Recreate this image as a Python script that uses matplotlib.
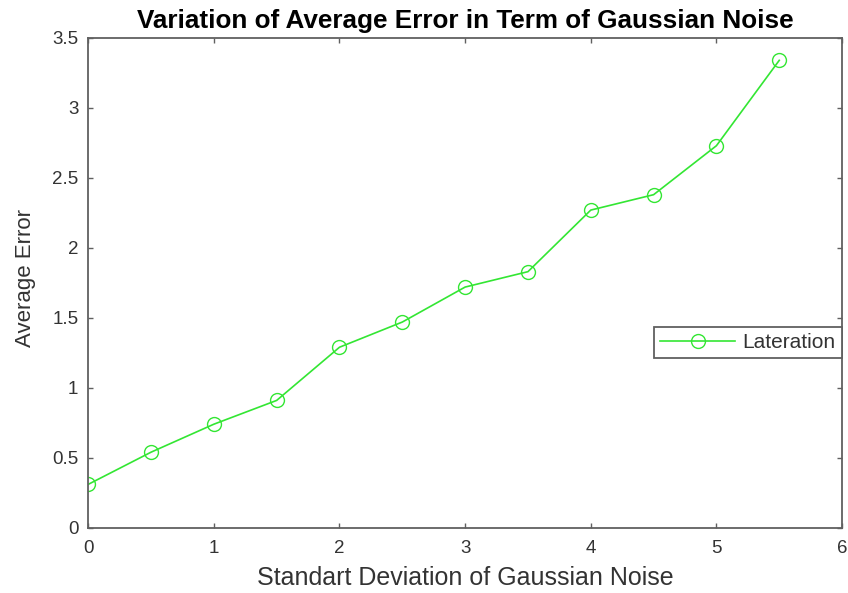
import matplotlib.pyplot as plt

plt.rcParams['font.family'] = ['Liberation Sans', 'DejaVu Sans']

# Standard deviation of the noise and the mean error
noise_std = [0, 0.5, 1, 1.5, 2, 2.5, 3, 3.5, 4, 4.5, 5, 5.5]
avg_error = [0.31, 0.54, 0.74, 0.91, 1.29, 1.47, 1.72, 1.83, 2.27, 2.38, 2.73, 3.34]

x_ticks = [0, 1, 2, 3, 4, 5, 6]
y_ticks = [0, 0.5, 1, 1.5, 2, 2.5, 3, 3.5]
y_labels = ['0', '0.5', '1', '1.5', '2', '2.5', '3', '3.5']

fig = plt.figure(figsize=(8.48, 5.93), dpi=100)
ax = fig.add_axes([0.104, 0.11, 0.889, 0.826])

green = '#33e633'
ax.plot(noise_std, avg_error, color=green, linewidth=1.2, marker='o',
        markersize=10, markerfacecolor='none', markeredgecolor=green,
        label='Lateration')

ax.set_xlim(0, 6)
ax.set_ylim(0, 3.5)
ax.set_xticks(x_ticks)
ax.set_yticks(y_ticks)
ax.set_yticklabels(y_labels)

axis_grey = '#606060'
text_grey = '#333333'
for side in ax.spines.values():
    side.set_color(axis_grey)
    side.set_linewidth(1.3)
ax.tick_params(direction='in', length=3.5, width=1, colors=axis_grey,
               labelcolor=text_grey, labelsize=13.5, top=True, right=True)
ax.tick_params(axis='x', pad=9)
ax.tick_params(axis='y', pad=7)

ax.set_xlabel('Standart Deviation of Gaussian Noise', fontsize=18, color=text_grey)
ax.set_ylabel('Average Error', fontsize=16, color=text_grey)
ax.xaxis.set_label_coords(0.5, -0.078)
ax.yaxis.set_label_coords(-0.069, 0.51)
ax.set_title('Variation of Average Error in Term of Gaussian Noise',
             fontsize=18.8, fontweight='bold', pad=7)

leg = ax.legend(loc='center right', bbox_to_anchor=(1.0, 0.378), fontsize=15,
                fancybox=False, framealpha=1, handlelength=3.6, handletextpad=0.35,
                borderpad=0.3, borderaxespad=0)
leg.get_frame().set_edgecolor(axis_grey)
leg.get_frame().set_linewidth(1.3)
for txt in leg.get_texts():
    txt.set_color(text_grey)

fig.savefig('out.png', dpi=100)
